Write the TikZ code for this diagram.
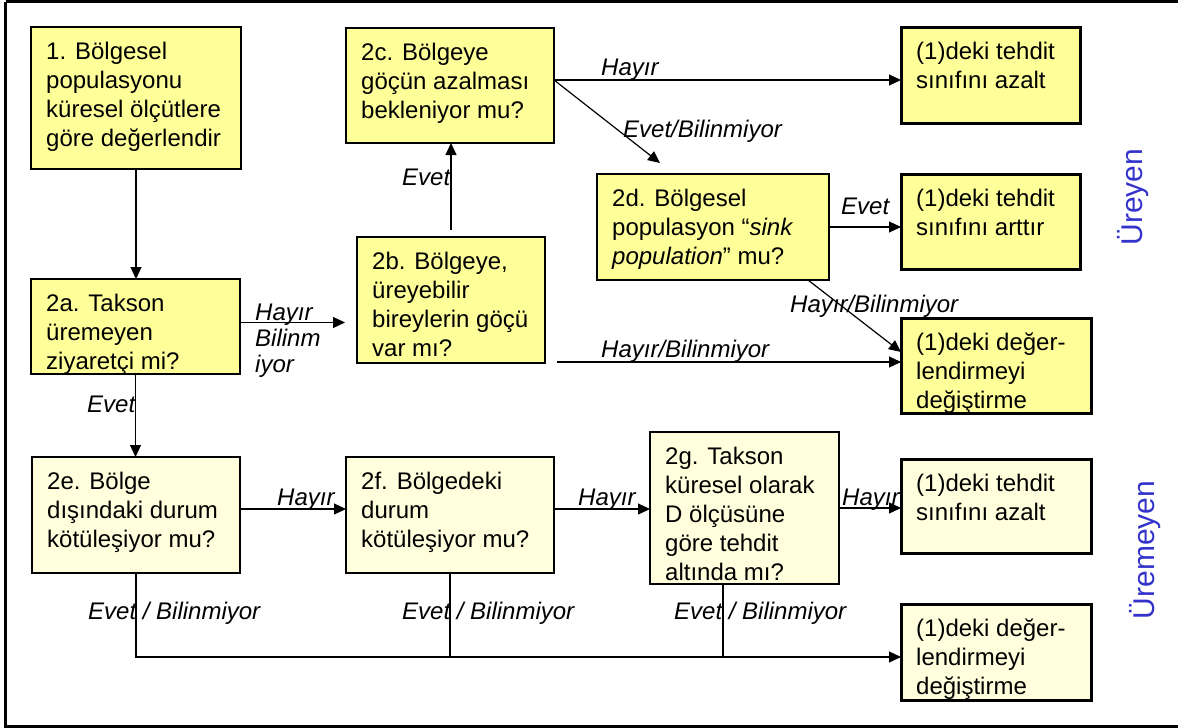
\documentclass[tikz,border=0pt]{standalone}
\usepackage{fontspec}
\setmainfont{Liberation Sans}
\usetikzlibrary{arrows.meta,calc}
\definecolor{yel}{HTML}{FFFF99}
\definecolor{lyel}{HTML}{FFFFDD}
\definecolor{vblue}{RGB}{51,51,204}
\tikzset{
 boxbase/.style={draw=black, inner sep=0pt, outer sep=0pt, anchor=north west},
 ybox/.style={boxbase, fill=yel},
 lbox/.style={boxbase, fill=lyel},
 txt/.style={inner sep=0pt, align=left, anchor=north west, font=\fontsize{24}{29}\selectfont},
 lab/.style={inner sep=0pt, anchor=north west, align=left, font=\fontsize{24}{26}\selectfont\itshape},
 conn/.style={line width=1.2pt},
 arr/.style={conn, -{Triangle[length=12pt,width=11pt]}},
 side/.style={inner sep=0pt, rotate=90, text=vblue, font=\fontsize{30}{32}\selectfont},
 frame/.style={line width=2.5pt},
}
\newcommand\mybox[8]{%
 \node[#6, line width=#7pt, minimum width=#4pt, minimum height=#5pt] (#1) at (#2,#3) {};
 \node[txt] (#1t) at ([xshift=15pt,yshift=-10pt]#1.north west) {\rule{0pt}{22pt}#8};
}
\newcommand\mylab[4]{\node[lab] (#1) at (#2,#3-22) {\rule{0pt}{22pt}#4};}
\begin{document}
\begin{tikzpicture}[x=1pt,y=-1pt]
\useasboundingbox (0,0) rectangle (1178,728);
\fill[white] (0,0) rectangle (1178,728);
\draw[frame] (5.5,1.5) -- (1190,1.5);
\draw[frame] (5.5,1.5) -- (5.5,726.5) -- (1190,726.5);

\mybox{n1}{31}{27}{210}{142}{ybox}{2.5}{1. Bölgesel\\populasyonu\\küresel ölçütlere\\göre değerlendir}
\mybox{c2}{346}{28}{208}{115}{ybox}{2}{2c. Bölgeye\\göçün azalması\\bekleniyor mu?}
\mybox{b2}{357}{237}{188}{126}{ybox}{1.5}{2b. Bölgeye,\\üreyebilir\\bireylerin göçü\\var mı?}
\mybox{a2}{31}{279}{209}{95}{ybox}{2}{2a. Takson\\üremeyen\\ziyaretçi mi?}
\mybox{d2}{597}{174}{232}{106}{ybox}{1.5}{2d. Bölgesel\\populasyon “\textit{sink}\\\textit{population}” mu?}
\mybox{r1}{901}{27}{179}{96}{ybox}{3}{(1)deki tehdit\\sınıfını azalt}
\mybox{r2}{901}{174}{179}{95}{ybox}{3}{(1)deki tehdit\\sınıfını arttır}
\mybox{r3}{901}{318}{190}{95}{ybox}{3}{(1)deki değer-\\lendirmeyi\\değiştirme}
\mybox{e2}{32}{457}{208}{116}{lbox}{1.5}{2e. Bölge\\dışındaki durum\\kötüleşiyor mu?}
\mybox{f2}{346}{457}{208}{116}{lbox}{1.5}{2f. Bölgedeki\\durum\\kötüleşiyor mu?}
\mybox{g2}{650}{432}{189}{152}{lbox}{1.5}{2g. Takson\\küresel olarak\\D ölçüsüne\\göre tehdit\\altında mı?}
\mybox{r4}{901}{459}{190}{94}{lbox}{3}{(1)deki tehdit\\sınıfını azalt}
\mybox{r5}{901}{604}{190}{96}{lbox}{3}{(1)deki değer-\\lendirmeyi\\değiştirme}

% connectors
\draw[arr] (n1.south) -- (n1.south |- a2.north);
\draw[arr] (a2.south) -- (a2.south |- e2.north);
\draw[arr, shorten >=12pt] ([yshift=4pt]a2.east) -- ([yshift=4pt]a2.east -| b2.west);
\draw[arr] ([yshift=7pt]b2.north) -- (b2.north |- c2.south);
\coordinate (c2o) at ([yshift=5.5pt]c2.east);
\coordinate (d2in) at ([xshift=63pt,yshift=11pt]d2.north west);
\draw[arr] (c2o) -- (c2o -| r1.west);
\draw[arr] (c2o) -- (d2in);
\draw[arr] (d2.east) -- (d2.east -| r2.west);
\draw[arr] ([xshift=95pt]d2.south) -- ([yshift=13.5pt]r3.west);
\coordinate (b2o) at ([xshift=12pt,yshift=1pt]b2.south east);
\draw[arr] (b2o) -- (b2o -| r3.west);
\draw[arr] ([yshift=6pt]e2.east) -- ([yshift=6pt]e2.east -| f2.west);
\draw[arr] ([yshift=6pt]f2.east) -- ([yshift=6pt]f2.east -| g2.west);
\draw[arr] (g2.east) -- (g2.east -| r4.west);
\coordinate (bus) at ([yshift=-5pt]r5.west);
\draw[arr] (e2.south) |- (bus);
\draw[conn] (f2.south) -- (f2.south |- bus);
\draw[conn] ([xshift=-21.5pt]g2.south) -- ([xshift=-21.5pt]g2.south |- bus);

% labels
\mylab{l1}{601}{75}{Hayır}
\mylab{l2}{623}{137}{Evet/Bilinmiyor}
\mylab{l3}{402}{185}{Evet}
\mylab{l4}{841}{214}{Evet}
\mylab{l5}{790}{312}{Hayır/Bilinmiyor}
\mylab{l6}{601}{357}{Hayır/Bilinmiyor}
\mylab{l7}{255}{320}{Hayır\\Bilinm\\iyor}
\mylab{l8}{87}{412}{Evet}
\mylab{l9}{277}{505}{Hayır}
\mylab{l10}{578}{505}{Hayır}
\mylab{l11}{842}{505}{Hayır}
\mylab{l12}{88}{619}{Evet / Bilinmiyor}
\mylab{l13}{402}{619}{Evet / Bilinmiyor}
\mylab{l14}{674}{619}{Evet / Bilinmiyor}

\node[side] (v1) at (1133,197) {Üreyen};
\node[side] (v2) at (1145,550) {Üremeyen};
\end{tikzpicture}
\end{document}
